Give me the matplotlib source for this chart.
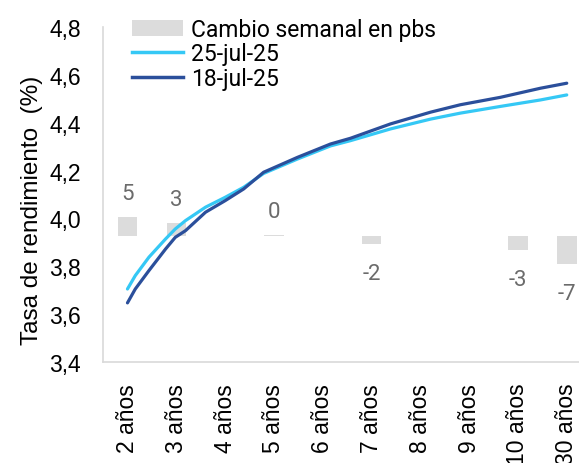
import matplotlib
matplotlib.use("Agg")
import matplotlib.pyplot as plt
from matplotlib.patches import Patch
from matplotlib.lines import Line2D

tenors = ['2 años', '3 años', '4 años', '5 años', '6 años', '7 años',
          '8 años', '9 años', '10 años', '30 años']

# curve sample positions (in category units)
curve_pos = [0, 0.16, 0.44, 0.78, 0.98, 1.19, 1.6, 2.0, 2.38, 2.79,
             3.48, 4.16, 4.57, 5.39, 6.21, 6.82, 7.64, 8.46, 9.0]
y_25jul = [3.705, 3.761, 3.838, 3.914, 3.956, 3.991, 4.047, 4.088, 4.130, 4.188,
           4.248, 4.303, 4.325, 4.374, 4.415, 4.440, 4.468, 4.495, 4.516]
y_18jul = [3.647, 3.705, 3.782, 3.872, 3.921, 3.949, 4.026, 4.074, 4.123, 4.193,
           4.255, 4.311, 4.335, 4.395, 4.444, 4.475, 4.506, 4.544, 4.565]

bar_tenors = ['2 años', '3 años', '5 años', '7 años', '10 años', '30 años']
bar_values = [4.6, 3.1, 0.4, -1.9, -3.3, -6.7]

yticks = [3.4, 3.6, 3.8, 4.0, 4.2, 4.4, 4.6, 4.8]

C_LIGHT = '#35C8F5'
C_DARK = '#2B4F9B'
C_BAR = '#DCDCDC'
C_AXIS = '#D9D9D9'
FS = 16.5

fig = plt.figure(figsize=(5.79, 4.64), dpi=100)
ax = fig.add_axes([0.178, 0.2177, 0.843, 0.722])
ax2 = ax.twinx()

# bars on hidden secondary axis
bar_x = [tenors.index(t) for t in bar_tenors]
ax2.bar(bar_x, bar_values, width=0.4, color=C_BAR, zorder=1)
ax2.set_ylim(-30, 50)
ax2.axis('off')
for x, v in zip(bar_x, bar_values):
    off = 17 if v >= 0 else -21
    ax2.annotate(f"{v:.0f}", (x, v), xytext=(0, off), textcoords='offset points',
                 ha='center', va='center', fontsize=16, color='#6B6B6B',
                 family='Roboto')

ax.set_zorder(ax2.get_zorder() + 1)
ax.patch.set_visible(False)

ax.plot(curve_pos, y_25jul, color=C_LIGHT, lw=2.3, solid_capstyle='round')
ax.plot(curve_pos, y_18jul, color=C_DARK, lw=2.3, solid_capstyle='round')

ax.set_xlim(-0.5, 9.5)
ax.set_ylim(3.4, 4.8)
ax.set_yticks(yticks)
ax.set_yticklabels([f"{t:.1f}".replace('.', ',') for t in yticks],
                   fontsize=FS, family='Liberation Sans')
ax.set_xticks(range(len(tenors)))
ax.set_xticklabels(tenors, rotation=90, fontsize=FS, family='Liberation Sans')
ax.tick_params(axis='both', length=0, colors='black')
ax.tick_params(axis='y', pad=16)
ax.tick_params(axis='x', pad=15)
for s in ['top', 'right']:
    ax.spines[s].set_visible(False)
for s in ['left', 'bottom']:
    ax.spines[s].set_color(C_AXIS)
    ax.spines[s].set_linewidth(1.2)

ax.set_ylabel('Tasa de rendimiento  (%)', fontsize=17.5, family='Liberation Sans')
ax.yaxis.set_label_coords(-0.123, 0.455)

handles = [Patch(facecolor=C_BAR, edgecolor='none'),
           Line2D([], [], color=C_LIGHT, lw=2.5),
           Line2D([], [], color=C_DARK, lw=2.5)]
labels = ['Cambio semanal en pbs', '25-jul-25', '18-jul-25']
leg = ax.legend(handles, labels, loc='upper left', bbox_to_anchor=(0.06, 1.026),
                frameon=False, prop={'family': 'Roboto', 'size': FS},
                handlelength=2.2, handletextpad=0.35, labelspacing=0.05,
                borderpad=0, borderaxespad=0)

fig.savefig('out.png', dpi=100)
